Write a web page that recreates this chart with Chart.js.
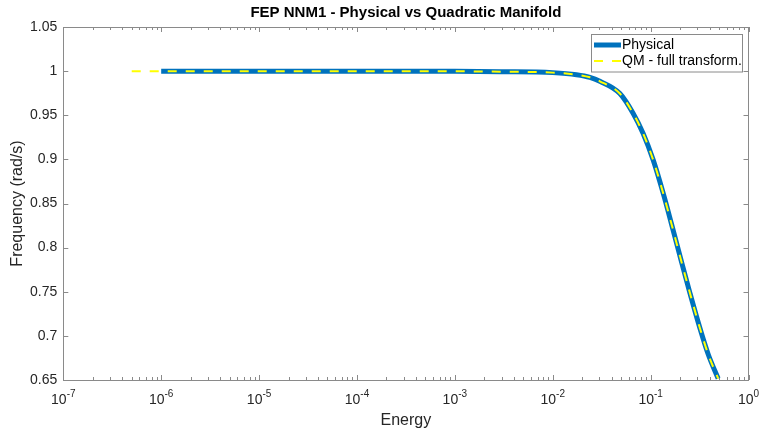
<!DOCTYPE html>
<html>
<head>
<meta charset="utf-8">
<script src="https://cdn.jsdelivr.net/npm/chart.js@4/dist/chart.umd.min.js"></script>
<style>
html,body{margin:0;padding:0;background:#fff;}
#wrap{width:759px;height:434px;position:relative;}
</style>
</head>
<body>
<div id="wrap"><canvas id="c" width="759" height="434"></canvas></div>
<script>
// ---- data ----
const chartTitle = 'FEP NNM1 - Physical vs Quadratic Manifold';
const xLabel = 'Energy';
const yLabel = 'Frequency (rad/s)';
const seriesNames = ['Physical', 'QM - full transform.'];

const physEnergy = [1e-6, 1e-5, 1e-4, 1e-3, 3e-3, 0.01, 0.0175, 0.024, 0.0303, 0.0485, 0.0664, 0.0839, 0.1064, 0.1346, 0.1637, 0.2075, 0.2518, 0.3192, 0.3873, 0.4898];
const physFreq   = [1.0, 1.0, 0.99999, 0.9998, 0.9994, 0.9983, 0.9960, 0.9930, 0.9885, 0.9746, 0.9520, 0.9293, 0.8991, 0.8614, 0.8265, 0.7832, 0.7488, 0.7086, 0.6792, 0.6517];

const qmEnergy = [5e-7, 1e-6, 1e-5, 1e-4, 1e-3, 3e-3, 0.01, 0.0175, 0.024, 0.0303, 0.0485, 0.0664, 0.0839, 0.1064, 0.1346, 0.1637, 0.2075, 0.2518, 0.3192, 0.3873, 0.4898];
const qmFreq   = [1.0, 1.0, 1.0, 0.99999, 0.9998, 0.9994, 0.9983, 0.9960, 0.9930, 0.9885, 0.9746, 0.9520, 0.9293, 0.8991, 0.8614, 0.8265, 0.7832, 0.7488, 0.7086, 0.6792, 0.6517];

const yTicks = [0.65, 0.7, 0.75, 0.8, 0.85, 0.9, 0.95, 1, 1.05];
const xDecades = [-7, -6, -5, -4, -3, -2, -1, 0];

// ---- styles ----
const FONT = '"Liberation Sans", Arial, Helvetica, sans-serif';
const AXIS_COLOR = '#262626';
const BOX_COLOR = '#8a8a8a';

const toPts = (xs, ys) => xs.map((x, i) => ({x: x, y: ys[i]}));

const axesPlugin = {
  id: 'matlabAxes',
  beforeDatasetsDraw(chart) {
    const {ctx, chartArea: a, scales} = chart;
    const xs = scales.x, ys = scales.y;
    ctx.save();
    ctx.strokeStyle = BOX_COLOR;
    ctx.lineWidth = 1;
    ctx.strokeRect(Math.round(a.left) + 0.5, Math.round(a.top) + 0.5,
                   Math.round(a.right - a.left), Math.round(a.bottom - a.top));
    ctx.beginPath();
    yTicks.forEach(v => {
      const py = Math.round(ys.getPixelForValue(v)) + 0.5;
      ctx.moveTo(a.left, py); ctx.lineTo(a.left + 5, py);
      ctx.moveTo(a.right, py); ctx.lineTo(a.right - 5, py);
    });
    xDecades.forEach((d, i) => {
      const px = Math.round(xs.getPixelForValue(Math.pow(10, d))) + 0.5;
      ctx.moveTo(px, a.bottom); ctx.lineTo(px, a.bottom - 5);
      ctx.moveTo(px, a.top); ctx.lineTo(px, a.top + 5);
      if (i < xDecades.length - 1) {
        for (let m = 2; m <= 9; m++) {
          const qx = Math.round(xs.getPixelForValue(m * Math.pow(10, d))) + 0.5;
          ctx.moveTo(qx, a.bottom); ctx.lineTo(qx, a.bottom - 3);
          ctx.moveTo(qx, a.top); ctx.lineTo(qx, a.top + 3);
        }
      }
    });
    ctx.stroke();
    // x tick labels with superscript exponents
    ctx.fillStyle = AXIS_COLOR;
    ctx.textBaseline = 'alphabetic';
    xDecades.forEach(d => {
      const px = xs.getPixelForValue(Math.pow(10, d));
      const base = '10', exp = String(d);
      ctx.font = '14px ' + FONT;
      const wb = ctx.measureText(base).width;
      ctx.font = '10px ' + FONT;
      const we = ctx.measureText(exp).width;
      const x0 = px - (wb + we) / 2;
      ctx.font = '14px ' + FONT;
      ctx.textAlign = 'left';
      ctx.fillText(base, x0, a.bottom + 24);
      ctx.font = '10px ' + FONT;
      ctx.fillText(exp, x0 + wb, a.bottom + 17);
    });
    // title
    ctx.font = 'bold 15px ' + FONT;
    ctx.fillStyle = '#000';
    ctx.textAlign = 'center';
    ctx.textBaseline = 'middle';
    ctx.fillText(chartTitle, (a.left + a.right) / 2, 13);
    ctx.restore();
  },
  afterDatasetsDraw(chart) {
    const {ctx} = chart;
    const bx = 591, by = 34.5, bw = 151, bh = 37.5;
    ctx.save();
    ctx.fillStyle = '#fff';
    ctx.fillRect(bx, by, bw, bh);
    ctx.strokeStyle = BOX_COLOR;
    ctx.lineWidth = 1;
    ctx.strokeRect(bx + 0.5, by, bw, bh);
    chart.data.datasets.forEach((ds, i) => {
      const y = by + 10.5 + i * 16;
      ctx.beginPath();
      ctx.strokeStyle = ds.borderColor;
      ctx.lineWidth = ds.borderWidth;
      ctx.setLineDash(ds.borderDash || []);
      ctx.moveTo(bx + 3, y); ctx.lineTo(bx + 30, y);
      ctx.stroke();
      ctx.setLineDash([]);
      ctx.fillStyle = '#000';
      ctx.font = '14px ' + FONT;
      ctx.textAlign = 'left';
      ctx.textBaseline = 'middle';
      ctx.fillText(ds.label, bx + 31, y + 0.5);
    });
    ctx.restore();
  }
};

new Chart(document.getElementById('c'), {
  type: 'line',
  data: {
    datasets: [
      {
        label: seriesNames[0],
        data: toPts(physEnergy, physFreq),
        borderColor: '#0072BD',
        borderWidth: 5,
        pointRadius: 0,
        cubicInterpolationMode: 'monotone',
        fill: false,
        order: 2
      },
      {
        label: seriesNames[1],
        data: toPts(qmEnergy, qmFreq),
        borderColor: '#FFFF00',
        borderWidth: 2,
        borderDash: [9, 9],
        pointRadius: 0,
        cubicInterpolationMode: 'monotone',
        fill: false,
        order: 1
      }
    ]
  },
  options: {
    responsive: false,
    animation: false,
    devicePixelRatio: 1,
    layout: {padding: {top: 27, left: 0, right: 10.5, bottom: 0}},
    plugins: {
      legend: {display: false},
      title: {display: false},
      tooltip: {enabled: false}
    },
    scales: {
      x: {
        type: 'logarithmic',
        min: 1e-7,
        max: 1,
        ticks: {display: false},
        grid: {display: false, drawTicks: false},
        border: {display: false},
        title: {display: true, text: xLabel, color: AXIS_COLOR,
                font: {family: FONT, size: 16}, padding: {top: 0, bottom: 3.4}},
        afterFit(s) { s.height = 54; }
      },
      y: {
        type: 'linear',
        min: 0.65,
        max: 1.05,
        afterBuildTicks(s) { s.ticks = yTicks.map(v => ({value: v})); },
        ticks: {
          color: AXIS_COLOR,
          font: {family: FONT, size: 14},
          padding: 6,
          callback: v => String(+v.toFixed(2))
        },
        grid: {display: false, drawTicks: false},
        border: {display: false},
        title: {display: true, text: yLabel, color: AXIS_COLOR,
                font: {family: FONT, size: 16}, padding: {top: 8.4, bottom: 0}},
        afterFit(s) { s.width = 63.3; }
      }
    }
  },
  plugins: [axesPlugin]
});
</script>
</body>
</html>
